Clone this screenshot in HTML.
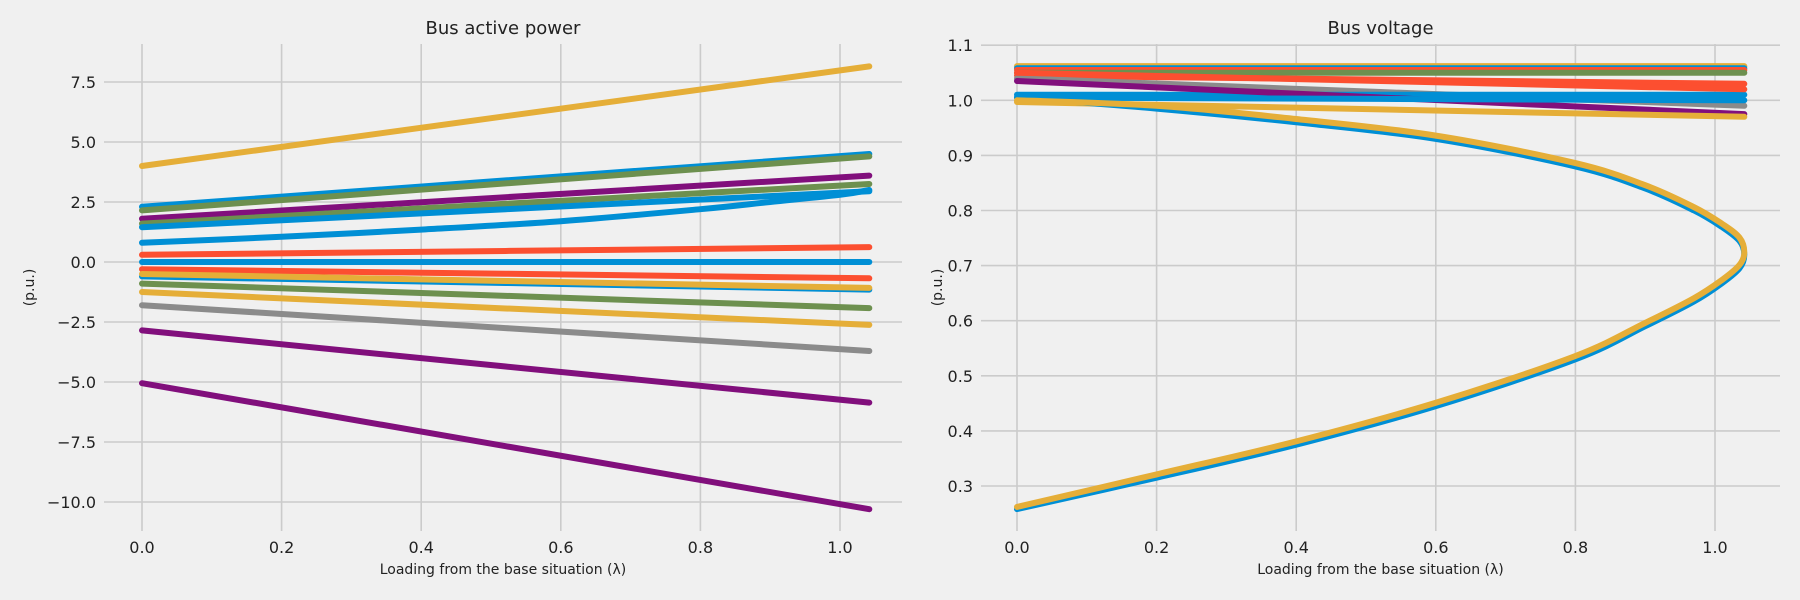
<!DOCTYPE html>
<html><head><meta charset="utf-8"><style>
html,body{margin:0;padding:0;background:#f0f0f0;}
svg{display:block;font-family:"DejaVu Sans","Liberation Sans",sans-serif;}
</style></head><body>
<svg id="fig" width="1800" height="600" viewBox="0 0 1800 600" xmlns="http://www.w3.org/2000/svg"></svg>
<script>
// ---- Left chart data (bus active power): start value at λ=0, end value at λ=1.042
const lambdaEnd = 1.042;
const powerStart = [4.0, 2.3, 2.15, 1.8, 1.6, 1.45, 0.3, 0.0, -0.3, -0.6, -0.5, -0.9, -1.25, -1.8, -2.85, -5.05];
const powerEnd   = [8.15, 4.5, 4.4, 3.6, 3.25, 2.95, 0.62, 0.0, -0.68, -1.15, -1.08, -1.92, -2.62, -3.71, -5.86, -10.3];
const powerColors = ['#e5ae38','#008fd5','#6d904f','#810f7c','#6d904f','#008fd5','#fc4f30','#008fd5','#fc4f30','#008fd5','#e5ae38','#6d904f','#e5ae38','#8b8b8b','#810f7c','#810f7c'];
const curveLambda = [0, 0.2, 0.4, 0.6, 0.8, 0.9, 1.0, 1.042];
const curvePower  = [0.8, 1.05, 1.35, 1.7, 2.2, 2.5, 2.8, 3.0];
const powerTicks = [-10.0, -7.5, -5.0, -2.5, 0.0, 2.5, 5.0, 7.5];
const powerTickLabels = ['\u221210.0','\u22127.5','\u22125.0','\u22122.5','0.0','2.5','5.0','7.5'];
const xTicks = [0.0, 0.2, 0.4, 0.6, 0.8, 1.0];
const xTickLabels = ['0.0','0.2','0.4','0.6','0.8','1.0'];
// ---- Right chart data (bus voltage)
const voltStart = [1.062, 1.058, 1.055, 1.05, 1.045, 1.04, 1.01, 1.035, 0.997, 1.005, 1.05];
const voltEnd   = [1.062, 1.058, 1.055, 1.05, 1.03, 0.99, 1.01, 0.975, 0.97, 1.0, 1.02];
const voltColors = ['#e5ae38','#008fd5','#fc4f30','#6d904f','#fc4f30','#8b8b8b','#008fd5','#810f7c','#e5ae38','#008fd5','#fc4f30'];
const noseLambda = [0, 0.2, 0.4, 0.6, 0.8, 0.9, 0.97, 1.01, 1.035, 1.042, 1.035, 1.01, 0.97, 0.9, 0.8, 0.6, 0.4, 0.2, 0];
const noseVoltBlue = [1.005, 0.985, 0.96, 0.93, 0.88, 0.84, 0.80, 0.77, 0.745, 0.72, 0.695, 0.668, 0.635, 0.59, 0.53, 0.445, 0.375, 0.315, 0.258];
const noseVoltYellow = [1.0, 0.99, 0.966, 0.936, 0.886, 0.846, 0.806, 0.776, 0.751, 0.724, 0.701, 0.674, 0.641, 0.596, 0.536, 0.451, 0.381, 0.321, 0.262];
const voltTicks = [0.3,0.4,0.5,0.6,0.7,0.8,0.9,1.0,1.1];
const voltTickLabels = ['0.3','0.4','0.5','0.6','0.7','0.8','0.9','1.0','1.1'];

const NS='http://www.w3.org/2000/svg';
const svg=document.getElementById('fig');
function mk(tag,attrs,parent){const e=document.createElementNS(NS,tag);for(const k in attrs)e.setAttribute(k,attrs[k]);(parent||svg).appendChild(e);return e;}

function axes(cfg){
  const g=mk('g',{});
  
  
  const {x0,x1,y0,y1}=cfg.box;
  const sx=v=>cfg.px0+(v)*cfg.kx;
  const sy=v=>cfg.py0-(v-cfg.vy0)*cfg.ky;
  const clipId=cfg.name+'-clip';
  const cp=mk('clipPath',{id:clipId},g);mk('rect',{x:x0,y:y0,width:x1-x0,height:y1-y0},cp);
  xTicks.forEach((t,i)=>{
    const X=sx(t);
    const l=mk('line',{x1:X,x2:X,y1:y0,y2:y1,stroke:'#cbcbcb','stroke-width':1.6},g);
    
    
    const tx=mk('text',{x:X,y:y1+22,'font-size':16,'text-anchor':'middle',fill:'#222'},g);
    tx.textContent=xTickLabels[i];
    
    
  });
  cfg.yt.forEach((t,i)=>{
    const Y=sy(t);
    const l=mk('line',{x1:x0,x2:x1,y1:Y,y2:Y,stroke:'#cbcbcb','stroke-width':1.6},g);
    
    
    const tx=mk('text',{x:x0-8,y:Y+6,'font-size':16,'text-anchor':'end',fill:'#222'},g);
    tx.textContent=cfg.ytl[i];
    
    
  });
  const plot=mk('g',{'clip-path':'url(#'+clipId+')'},g);
  
  
  cfg.draw(plot,sx,sy);
  const tt=mk('text',{x:(x0+x1)/2,y:34,'font-size':18,'text-anchor':'middle',fill:'#222'},g);
  tt.textContent=cfg.title;
  
  
  const xl=mk('text',{x:(x0+x1)/2,y:574,'font-size':14,'text-anchor':'middle',fill:'#222'},g);
  xl.textContent='Loading from the base situation (\u03bb)';
  
  
  const yl=mk('text',{x:cfg.ylx,y:(y0+y1)/2,'font-size':14,'text-anchor':'middle',fill:'#222',transform:`rotate(-90 ${cfg.ylx} ${(y0+y1)/2})`},g);
  yl.textContent='(p.u.)';
  
  
}
function poly(parent,xs,ys,color,sx,sy,name){
  const P=xs.map((x,i)=>[sx(x),sy(ys[i])]);
  let d='M'+P[0][0].toFixed(1)+','+P[0][1].toFixed(1);
  for(let i=0;i<P.length-1;i++){
    const p0=P[Math.max(0,i-1)],p1=P[i],p2=P[i+1],p3=P[Math.min(P.length-1,i+2)];
    const c1=[p1[0]+(p2[0]-p0[0])/6,p1[1]+(p2[1]-p0[1])/6];
    const c2=[p2[0]-(p3[0]-p1[0])/6,p2[1]-(p3[1]-p1[1])/6];
    d+=` C${c1[0].toFixed(1)},${c1[1].toFixed(1)} ${c2[0].toFixed(1)},${c2[1].toFixed(1)} ${p2[0].toFixed(1)},${p2[1].toFixed(1)}`;
  }
  const p=mk('path',{d:d,fill:'none',stroke:color,'stroke-width':6,'stroke-linecap':'round','stroke-linejoin':'round'},parent);
  
  
}
axes({name:'bus-active-power-chart',title:'Bus active power',box:{x0:104,x1:902,y0:44,y1:531},
  px0:142,kx:698,py0:262,vy0:0,ky:24,yt:powerTicks,ytl:powerTickLabels,ylx:34,
  draw:(g,sx,sy)=>{
    powerStart.forEach((s,i)=>poly(g,[0,lambdaEnd],[s,powerEnd[i]],powerColors[i],sx,sy,'power-series-line'));
    poly(g,curveLambda,curvePower,'#008fd5',sx,sy,'power-series-curve');
  }});
axes({name:'bus-voltage-chart',title:'Bus voltage',box:{x0:981,x1:1780,y0:44,y1:531},
  px0:1017,kx:698,py0:486,vy0:0.3,ky:551,yt:voltTicks,ytl:voltTickLabels,ylx:942,
  draw:(g,sx,sy)=>{
    voltStart.forEach((s,i)=>poly(g,[0,lambdaEnd],[s,voltEnd[i]],voltColors[i],sx,sy,'voltage-series-line'));
    poly(g,noseLambda,noseVoltBlue,'#008fd5',sx,sy,'nose-curve-blue');
    poly(g,noseLambda,noseVoltYellow,'#e5ae38',sx,sy,'nose-curve-yellow');
  }});
</script>
</body></html>
